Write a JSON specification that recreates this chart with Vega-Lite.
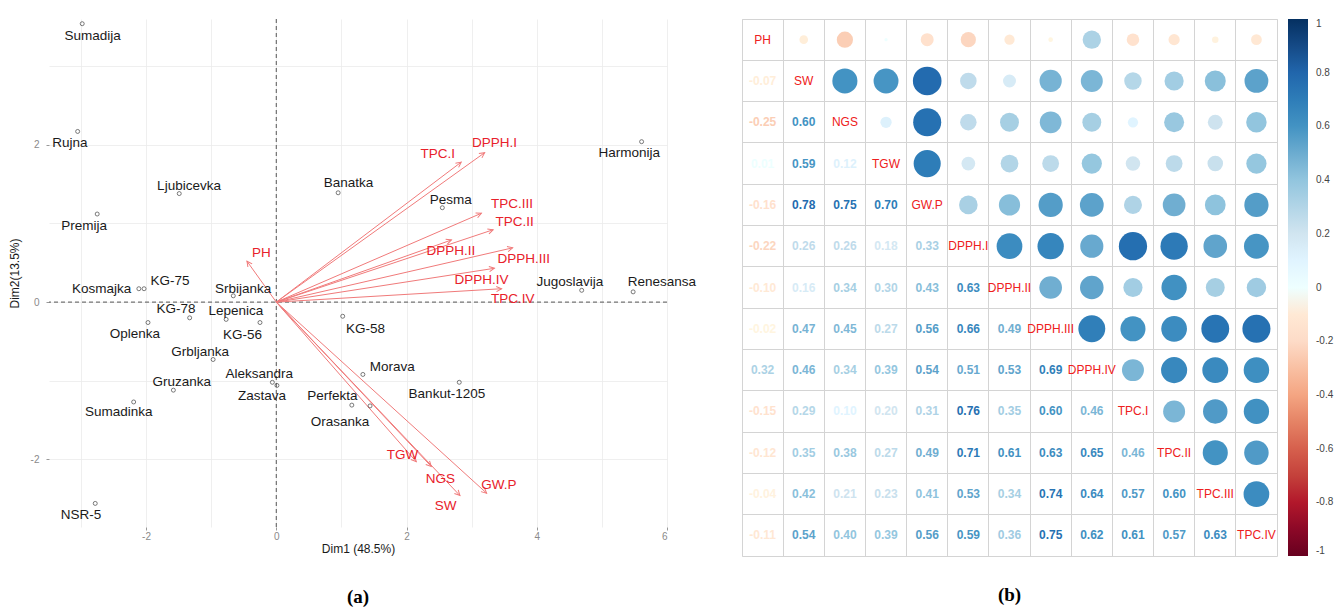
{
  "$schema": "https://vega.github.io/schema/vega-lite/v6.json",
  "background": "white",
  "padding": {"left": 8, "top": 18, "right": 2, "bottom": 5},
  "bounds": "flush",
  "spacing": 75,
  "config": {
    "font": "Liberation Sans",
    "locale": {"number": {"decimal": ".", "thousands": ",", "grouping": [3], "currency": ["$", ""], "minus": "-"}}
  },
  "datasets": {
    "ind": [
      {"name": "Sumadija", "x": -2.98, "y": 3.54, "lx": -2.82, "ly": 3.38},
      {"name": "Rujna", "x": -3.05, "y": 2.17, "lx": -3.17, "ly": 2.02},
      {"name": "Ljubicevka", "x": -1.49, "y": 1.38, "lx": -1.34, "ly": 1.47},
      {"name": "Premija", "x": -2.75, "y": 1.12, "lx": -2.95, "ly": 0.97},
      {"name": "Banatka", "x": 0.95, "y": 1.39, "lx": 1.11, "ly": 1.51},
      {"name": "Pesma", "x": 2.55, "y": 1.2, "lx": 2.68, "ly": 1.3},
      {"name": "Harmonija", "x": 5.61, "y": 2.04, "lx": 5.42, "ly": 1.89},
      {"name": "Jugoslavija", "x": 4.69, "y": 0.15, "lx": 4.51, "ly": 0.26},
      {"name": "Renesansa", "x": 5.48, "y": 0.13, "lx": 5.92, "ly": 0.26},
      {"name": "Kosmajka", "x": -2.11, "y": 0.17, "lx": -2.68, "ly": 0.17},
      {"name": "KG-75", "x": -2.03, "y": 0.17, "lx": -1.63, "ly": 0.27},
      {"name": "Srbijanka", "x": -0.66, "y": 0.08, "lx": -0.51, "ly": 0.17},
      {"name": "KG-78", "x": -1.33, "y": -0.2, "lx": -1.54, "ly": -0.09},
      {"name": "Oplenka", "x": -1.97, "y": -0.26, "lx": -2.17, "ly": -0.41},
      {"name": "Lepenica", "x": -0.77, "y": -0.22, "lx": -0.62, "ly": -0.11},
      {"name": "KG-56", "x": -0.25, "y": -0.26, "lx": -0.52, "ly": -0.42},
      {"name": "Grbljanka", "x": -0.97, "y": -0.73, "lx": -1.17, "ly": -0.63},
      {"name": "Aleksandra", "x": -0.06, "y": -1.02, "lx": -0.26, "ly": -0.91},
      {"name": "Zastava", "x": 0.01, "y": -1.06, "lx": -0.22, "ly": -1.2},
      {"name": "Gruzanka", "x": -1.58, "y": -1.12, "lx": -1.45, "ly": -1.01},
      {"name": "Sumadinka", "x": -2.19, "y": -1.27, "lx": -2.42, "ly": -1.4},
      {"name": "NSR-5", "x": -2.78, "y": -2.56, "lx": -3.0, "ly": -2.71},
      {"name": "KG-58", "x": 1.02, "y": -0.18, "lx": 1.37, "ly": -0.34},
      {"name": "Morava", "x": 1.33, "y": -0.92, "lx": 1.78, "ly": -0.83},
      {"name": "Bankut-1205", "x": 2.81, "y": -1.02, "lx": 2.62, "ly": -1.17},
      {"name": "Perfekta", "x": 1.16, "y": -1.31, "lx": 0.86, "ly": -1.2},
      {"name": "Orasanka", "x": 1.44, "y": -1.32, "lx": 0.98, "ly": -1.53}
    ],
    "var": [
      {"name": "PH", "x": -0.45, "y": 0.52, "lx": -0.23, "ly": 0.63},
      {"name": "TPC.I", "x": 2.84, "y": 1.78, "lx": 2.48, "ly": 1.88},
      {"name": "DPPH.I", "x": 3.2, "y": 1.9, "lx": 3.35, "ly": 2.02},
      {"name": "TPC.III", "x": 3.15, "y": 1.13, "lx": 3.62, "ly": 1.25},
      {"name": "TPC.II", "x": 3.33, "y": 0.92, "lx": 3.66, "ly": 1.02},
      {"name": "DPPH.II", "x": 2.69, "y": 0.79, "lx": 2.68, "ly": 0.65},
      {"name": "DPPH.III", "x": 3.63, "y": 0.69, "lx": 3.8, "ly": 0.55},
      {"name": "DPPH.IV", "x": 3.35, "y": 0.43, "lx": 3.15, "ly": 0.28},
      {"name": "TPC.IV", "x": 3.46, "y": 0.17, "lx": 3.63, "ly": 0.04},
      {"name": "TGW", "x": 2.15, "y": -2.03, "lx": 1.94, "ly": -1.95},
      {"name": "NGS", "x": 2.38, "y": -2.09, "lx": 2.52, "ly": -2.25},
      {"name": "SW", "x": 2.82, "y": -2.46, "lx": 2.6, "ly": -2.59},
      {"name": "GW.P", "x": 3.23, "y": -2.43, "lx": 3.42, "ly": -2.32}
    ],
    "diag": [
      {"v": "PH"}, {"v": "SW"}, {"v": "NGS"}, {"v": "TGW"}, {"v": "GW.P"}, {"v": "DPPH.I"}, {"v": "DPPH.II"},
      {"v": "DPPH.III"}, {"v": "DPPH.IV"}, {"v": "TPC.I"}, {"v": "TPC.II"}, {"v": "TPC.III"}, {"v": "TPC.IV"}
    ],
    "cor": [
      {"v1": "SW", "v2": "PH", "r": -0.07},
      {"v1": "NGS", "v2": "PH", "r": -0.25}, {"v1": "NGS", "v2": "SW", "r": 0.60},
      {"v1": "TGW", "v2": "PH", "r": 0.01}, {"v1": "TGW", "v2": "SW", "r": 0.59}, {"v1": "TGW", "v2": "NGS", "r": 0.12},
      {"v1": "GW.P", "v2": "PH", "r": -0.16}, {"v1": "GW.P", "v2": "SW", "r": 0.78}, {"v1": "GW.P", "v2": "NGS", "r": 0.75}, {"v1": "GW.P", "v2": "TGW", "r": 0.70},
      {"v1": "DPPH.I", "v2": "PH", "r": -0.22}, {"v1": "DPPH.I", "v2": "SW", "r": 0.26}, {"v1": "DPPH.I", "v2": "NGS", "r": 0.26}, {"v1": "DPPH.I", "v2": "TGW", "r": 0.18}, {"v1": "DPPH.I", "v2": "GW.P", "r": 0.33},
      {"v1": "DPPH.II", "v2": "PH", "r": -0.10}, {"v1": "DPPH.II", "v2": "SW", "r": 0.16}, {"v1": "DPPH.II", "v2": "NGS", "r": 0.34}, {"v1": "DPPH.II", "v2": "TGW", "r": 0.30}, {"v1": "DPPH.II", "v2": "GW.P", "r": 0.43}, {"v1": "DPPH.II", "v2": "DPPH.I", "r": 0.63},
      {"v1": "DPPH.III", "v2": "PH", "r": -0.02}, {"v1": "DPPH.III", "v2": "SW", "r": 0.47}, {"v1": "DPPH.III", "v2": "NGS", "r": 0.45}, {"v1": "DPPH.III", "v2": "TGW", "r": 0.27}, {"v1": "DPPH.III", "v2": "GW.P", "r": 0.56}, {"v1": "DPPH.III", "v2": "DPPH.I", "r": 0.66}, {"v1": "DPPH.III", "v2": "DPPH.II", "r": 0.49},
      {"v1": "DPPH.IV", "v2": "PH", "r": 0.32}, {"v1": "DPPH.IV", "v2": "SW", "r": 0.46}, {"v1": "DPPH.IV", "v2": "NGS", "r": 0.34}, {"v1": "DPPH.IV", "v2": "TGW", "r": 0.39}, {"v1": "DPPH.IV", "v2": "GW.P", "r": 0.54}, {"v1": "DPPH.IV", "v2": "DPPH.I", "r": 0.51}, {"v1": "DPPH.IV", "v2": "DPPH.II", "r": 0.53}, {"v1": "DPPH.IV", "v2": "DPPH.III", "r": 0.69},
      {"v1": "TPC.I", "v2": "PH", "r": -0.15}, {"v1": "TPC.I", "v2": "SW", "r": 0.29}, {"v1": "TPC.I", "v2": "NGS", "r": 0.10}, {"v1": "TPC.I", "v2": "TGW", "r": 0.20}, {"v1": "TPC.I", "v2": "GW.P", "r": 0.31}, {"v1": "TPC.I", "v2": "DPPH.I", "r": 0.76}, {"v1": "TPC.I", "v2": "DPPH.II", "r": 0.35}, {"v1": "TPC.I", "v2": "DPPH.III", "r": 0.60}, {"v1": "TPC.I", "v2": "DPPH.IV", "r": 0.46},
      {"v1": "TPC.II", "v2": "PH", "r": -0.12}, {"v1": "TPC.II", "v2": "SW", "r": 0.35}, {"v1": "TPC.II", "v2": "NGS", "r": 0.38}, {"v1": "TPC.II", "v2": "TGW", "r": 0.27}, {"v1": "TPC.II", "v2": "GW.P", "r": 0.49}, {"v1": "TPC.II", "v2": "DPPH.I", "r": 0.71}, {"v1": "TPC.II", "v2": "DPPH.II", "r": 0.61}, {"v1": "TPC.II", "v2": "DPPH.III", "r": 0.63}, {"v1": "TPC.II", "v2": "DPPH.IV", "r": 0.65}, {"v1": "TPC.II", "v2": "TPC.I", "r": 0.46},
      {"v1": "TPC.III", "v2": "PH", "r": -0.04}, {"v1": "TPC.III", "v2": "SW", "r": 0.42}, {"v1": "TPC.III", "v2": "NGS", "r": 0.21}, {"v1": "TPC.III", "v2": "TGW", "r": 0.23}, {"v1": "TPC.III", "v2": "GW.P", "r": 0.41}, {"v1": "TPC.III", "v2": "DPPH.I", "r": 0.53}, {"v1": "TPC.III", "v2": "DPPH.II", "r": 0.34}, {"v1": "TPC.III", "v2": "DPPH.III", "r": 0.74}, {"v1": "TPC.III", "v2": "DPPH.IV", "r": 0.64}, {"v1": "TPC.III", "v2": "TPC.I", "r": 0.57}, {"v1": "TPC.III", "v2": "TPC.II", "r": 0.60},
      {"v1": "TPC.IV", "v2": "PH", "r": -0.11}, {"v1": "TPC.IV", "v2": "SW", "r": 0.54}, {"v1": "TPC.IV", "v2": "NGS", "r": 0.40}, {"v1": "TPC.IV", "v2": "TGW", "r": 0.39}, {"v1": "TPC.IV", "v2": "GW.P", "r": 0.56}, {"v1": "TPC.IV", "v2": "DPPH.I", "r": 0.59}, {"v1": "TPC.IV", "v2": "DPPH.II", "r": 0.36}, {"v1": "TPC.IV", "v2": "DPPH.III", "r": 0.75}, {"v1": "TPC.IV", "v2": "DPPH.IV", "r": 0.62}, {"v1": "TPC.IV", "v2": "TPC.I", "r": 0.61}, {"v1": "TPC.IV", "v2": "TPC.II", "r": 0.57}, {"v1": "TPC.IV", "v2": "TPC.III", "r": 0.63}
    ]
  },
  "hconcat": [
    {
      "width": 618,
      "height": 508,
      "view": {"stroke": null},
      "title": {"text": "(a)", "orient": "bottom", "font": "Liberation Serif", "fontSize": 19, "fontWeight": "bold", "color": "#000", "offset": 34, "anchor": "middle"},
      "encoding": {
        "x": {"type": "quantitative", "scale": {"domain": [-3.49, 6.0], "nice": false, "zero": false},
          "axis": {"values": [-3, -2, -1, 0, 1, 2, 3, 4, 5, 6], "title": "Dim1 (48.5%)", "grid": true, "gridColor": "#EBEBEB", "gridWidth": 0.8, "domain": false,
            "labelExpr": "datum.value % 2 == 0 ? datum.label : ''", "labelColor": "#8A8A8A", "labelFontSize": 10, "labelPadding": 1,
            "tickSize": 3, "tickColor": {"condition": {"test": "datum.value % 2 == 0", "value": "#999"}, "value": "transparent"},
            "titleFontSize": 12, "titleFontWeight": "normal", "titleColor": "#1a1a1a", "titlePadding": 2}},
        "y": {"type": "quantitative", "scale": {"domain": [-2.86, 3.6], "nice": false, "zero": false},
          "axis": {"values": [-2, -1, 0, 1, 2, 3], "title": "Dim2(13.5%)", "grid": true, "gridColor": "#EBEBEB", "gridWidth": 0.8, "domain": false,
            "labelExpr": "datum.value % 2 == 0 ? datum.label : ''", "labelColor": "#8A8A8A", "labelFontSize": 10, "labelPadding": 7,
            "tickSize": 3, "tickColor": {"condition": {"test": "datum.value % 2 == 0", "value": "#999"}, "value": "transparent"},
            "titleFontSize": 12, "titleFontWeight": "normal", "titleColor": "#1a1a1a", "titlePadding": 9}}
      },
      "layer": [
        {"data": {"values": [{}]}, "mark": {"type": "rule", "color": "#555", "strokeDash": [4, 3], "strokeWidth": 1}, "encoding": {"y": {"datum": 0, "type": "quantitative"}}},
        {"data": {"values": [{}]}, "mark": {"type": "rule", "color": "#555", "strokeDash": [4, 3], "strokeWidth": 1}, "encoding": {"x": {"datum": 0, "type": "quantitative"}}},
        {"data": {"name": "var"}, "mark": {"type": "rule", "color": "#F07A7A", "strokeWidth": 1},
          "encoding": {"x": {"field": "x", "type": "quantitative"}, "y": {"field": "y", "type": "quantitative"}, "x2": {"datum": 0}, "y2": {"datum": 0}}},
        {"data": {"name": "var"}, "transform": [{"calculate": "atan2(datum.x * 65.1, datum.y * 78.3) * 180 / PI", "as": "ang"}],
          "mark": {"type": "point", "shape": "M-0.5,1L0,0L0.5,1", "filled": false, "stroke": "#F07A7A", "strokeWidth": 1, "size": 110, "opacity": 1},
          "encoding": {"x": {"field": "x", "type": "quantitative"}, "y": {"field": "y", "type": "quantitative"}, "angle": {"field": "ang", "type": "quantitative", "scale": null}}},
        {"data": {"name": "var"}, "mark": {"type": "text", "color": "#E8212B", "fontSize": 13.5, "align": "center", "baseline": "middle"},
          "encoding": {"x": {"field": "lx", "type": "quantitative"}, "y": {"field": "ly", "type": "quantitative"}, "text": {"field": "name"}}},
        {"data": {"name": "ind"}, "mark": {"type": "point", "shape": "circle", "filled": false, "stroke": "#444", "strokeWidth": 0.7, "size": 16, "opacity": 1},
          "encoding": {"x": {"field": "x", "type": "quantitative"}, "y": {"field": "y", "type": "quantitative"}}},
        {"data": {"name": "ind"}, "mark": {"type": "text", "color": "#1a1a1a", "fontSize": 13.5, "align": "center", "baseline": "middle"},
          "encoding": {"x": {"field": "lx", "type": "quantitative"}, "y": {"field": "ly", "type": "quantitative"}, "text": {"field": "name"}}}
      ]
    },
    {
      "width": 535,
      "height": 537,
      "view": {"stroke": "#D4D4D4"},
      "title": {"text": "(b)", "orient": "bottom", "font": "Liberation Serif", "fontSize": 19, "fontWeight": "bold", "color": "#000", "offset": 30, "anchor": "middle"},
      "encoding": {
        "x": {"type": "nominal", "scale": {"type": "band", "paddingInner": 0, "paddingOuter": 0, "domain": ["PH", "SW", "NGS", "TGW", "GW.P", "DPPH.I", "DPPH.II", "DPPH.III", "DPPH.IV", "TPC.I", "TPC.II", "TPC.III", "TPC.IV"]},
          "axis": {"title": null, "labels": false, "ticks": false, "domain": false, "grid": true, "gridColor": "#D4D4D4", "gridWidth": 1, "bandPosition": 0, "orient": "top"}},
        "y": {"type": "nominal", "scale": {"type": "band", "paddingInner": 0, "paddingOuter": 0, "domain": ["PH", "SW", "NGS", "TGW", "GW.P", "DPPH.I", "DPPH.II", "DPPH.III", "DPPH.IV", "TPC.I", "TPC.II", "TPC.III", "TPC.IV"]},
          "axis": {"title": null, "labels": false, "ticks": false, "domain": false, "grid": true, "gridColor": "#D4D4D4", "gridWidth": 1, "bandPosition": 0}}
      },
      "layer": [
        {"data": {"name": "cor"}, "transform": [{"calculate": "abs(datum.r)", "as": "ar"}],
          "mark": {"type": "circle", "opacity": 1},
          "encoding": {
            "x": {"field": "v1"}, "y": {"field": "v2"},
            "size": {"field": "ar", "type": "quantitative", "scale": {"domain": [0, 1], "range": [0, 1050]}, "legend": null},
            "color": {"field": "r", "type": "quantitative",
              "scale": {"domain": [-1, -0.8, -0.6, -0.4, -0.2, 0, 0.2, 0.4, 0.6, 0.8, 1], "range": ["#67001F", "#B2182B", "#D6604D", "#F4A582", "#FDDBC7", "#FFFFFF", "#D1E5F0", "#92C5DE", "#4393C3", "#2166AC", "#053061"]},
              "legend": {"title": null, "orient": "right", "offset": 10, "direction": "vertical", "gradientLength": 537, "gradientThickness": 20, "padding": 0,
                "values": [1, 0.8, 0.6, 0.4, 0.2, 0, -0.2, -0.4, -0.6, -0.8, -1], "format": "~g", "labelFontSize": 10, "labelColor": "#444", "labelOffset": 8, "labelOverlap": false, "gradientStrokeWidth": 0}}
          }},
        {"data": {"name": "cor"},
          "mark": {"type": "text", "fontSize": 12, "fontWeight": "bold", "align": "center", "baseline": "middle"},
          "encoding": {
            "x": {"field": "v2"}, "y": {"field": "v1"},
            "text": {"field": "r", "type": "quantitative", "format": ".2f"},
            "color": {"field": "r", "type": "quantitative"}
          }},
        {"data": {"name": "diag"},
          "mark": {"type": "text", "fontSize": 12, "color": "#EE2020", "align": "center", "baseline": "middle"},
          "encoding": {"x": {"field": "v"}, "y": {"field": "v"}, "text": {"field": "v"}}}
      ]
    }
  ]
}
